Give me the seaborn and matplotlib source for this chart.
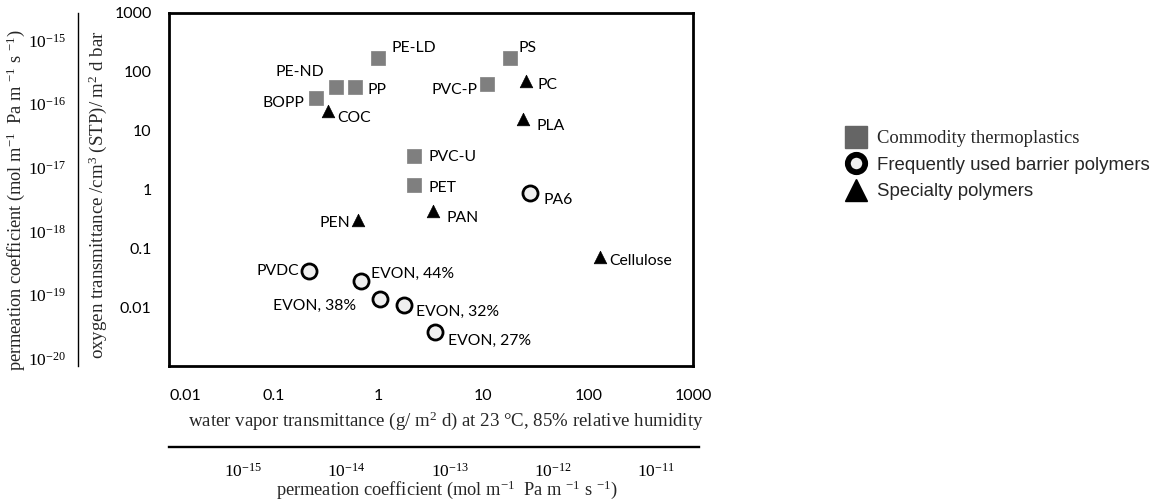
import matplotlib
matplotlib.use("Agg")
import matplotlib.pyplot as plt
import pandas as pd
import seaborn as sns
from matplotlib.lines import Line2D

# ---- data: water vapour transmittance (g/m2 d) and oxygen transmittance (cm3/m2 d bar)
commodity_names = ["PE-LD", "PS", "PE-ND", "PP", "BOPP", "PVC-P", "PVC-U", "PET"]
commodity_wvtr = [0.99, 17.9, 0.39, 0.60, 0.25, 10.8, 2.18, 2.18]
commodity_otr = [172, 172, 55, 55, 36, 62, 3.7, 1.19]

barrier_names = ["PA6", "PVDC", "EVON, 44%", "EVON, 38%", "EVON, 32%", "EVON, 27%"]
barrier_wvtr = [28.1, 0.215, 0.68, 1.02, 1.73, 3.45]
barrier_otr = [0.87, 0.041, 0.0275, 0.014, 0.0107, 0.0038]

specialty_names = ["COC", "PC", "PLA", "PAN", "PEN", "Cellulose"]
specialty_wvtr = [0.33, 25.5, 24.1, 3.31, 0.64, 131]
specialty_otr = [22, 69, 15.7, 0.43, 0.30, 0.071]

group_names = ["Commodity thermoplastics", "Frequently used barrier polymers", "Specialty polymers"]

x_ticks = [0.01, 0.1, 1, 10, 100, 1000]
x_ticklabels = ["0.01", "0.1", "1", "10", "100", "1000"]
y_ticks = [0.01, 0.1, 1, 10, 100, 1000]
y_ticklabels = ["0.01", "0.1", "1", "10", "100", "1000"]

perm_exponents_y = [-15, -16, -17, -18, -19, -20]
perm_exponents_x = [-15, -14, -13, -12, -11]

# ---- label placement (pixel offsets from the marker, horizontal alignment)
label_offsets = {
    "PE-LD": (13, 10, "left"), "PS": (9, 10, "left"), "PE-ND": (-12, 15, "right"),
    "PP": (12, -3, "left"), "BOPP": (-11, -5, "right"), "COC": (9, -7, "left"),
    "PVC-P": (-9, -6, "right"), "PC": (11, -4, "left"), "PLA": (13, -7, "left"),
    "PVC-U": (14, -1, "left"), "PET": (14, -3, "left"), "PA6": (13, -7, "left"),
    "PAN": (13, -7, "left"), "PEN": (-8, -3, "right"), "Cellulose": (9, -4, "left"),
    "PVDC": (-10, 0, "right"), "EVON, 44%": (10, 7, "left"), "EVON, 38%": (-23, -7, "right"),
    "EVON, 32%": (12, -6, "left"), "EVON, 27%": (13, -9, "left"),
}

sns.set_theme(style="white")
plt.rcParams["font.family"] = ["Lato", "DejaVu Sans"]
plt.rcParams["mathtext.fontset"] = "custom"
plt.rcParams["mathtext.rm"] = "Liberation Serif"
plt.rcParams["mathtext.it"] = "Liberation Serif:italic"
plt.rcParams["mathtext.bf"] = "Liberation Serif:bold"

df = pd.concat([
    pd.DataFrame({"name": commodity_names, "wvtr": commodity_wvtr, "otr": commodity_otr, "group": group_names[0]}),
    pd.DataFrame({"name": barrier_names, "wvtr": barrier_wvtr, "otr": barrier_otr, "group": group_names[1]}),
    pd.DataFrame({"name": specialty_names, "wvtr": specialty_wvtr, "otr": specialty_otr, "group": group_names[2]}),
], ignore_index=True)

W, H = 1164, 504
fig = plt.figure(figsize=(W / 100, H / 100), dpi=100)
fig.patch.set_facecolor("white")


def fx(px):
    return px / W


def fy(py):
    return 1 - py / H


ax = fig.add_axes([fx(169), fy(366), fx(693) - fx(169), fy(13) - fy(366)])

styles = {
    group_names[0]: dict(marker="s", s=112, color="#7f7f7f", edgecolor="#7f7f7f", linewidth=0.5),
    group_names[1]: dict(marker="o", s=118, color="#efefef", edgecolor="black", linewidth=2.0),
    group_names[2]: dict(marker="^", s=82, color="black", edgecolor="black", linewidth=0.5),
}
for g in group_names:
    sns.scatterplot(data=df[df["group"] == g], x="wvtr", y="otr", ax=ax, legend=False,
                    zorder=3, **styles[g])

ax.set_xscale("log")
ax.set_yscale("log")
ax.set_xlim(0.01, 1000)
ax.set_ylim(0.001, 1000)
ax.set_xticks(x_ticks)
ax.set_xticklabels(x_ticklabels)
ax.set_yticks(y_ticks)
ax.set_yticklabels(y_ticklabels)
ax.minorticks_off()
ax.set_xlabel("")
ax.set_ylabel("")
ax.tick_params(axis="x", direction="inout", length=11, width=1.0, pad=11, labelsize=11.5,
               color="#505050", labelcolor="black")
ax.tick_params(axis="y", direction="inout", length=11, width=1.0, pad=7, labelsize=11.5,
               color="#505050", labelcolor="black")
ax.get_xticklabels()[0].set_horizontalalignment("left")
for sp in ax.spines.values():
    sp.set_visible(True)
    sp.set_color("black")
    sp.set_linewidth(2.0)

for _, row in df.iterrows():
    dx, dy, ha = label_offsets[row["name"]]
    ax.annotate(row["name"], (row["wvtr"], row["otr"]), xytext=(dx, dy),
                textcoords="offset pixels", ha=ha, va="center", fontsize=11.3, color="black")

serif = ["Liberation Serif", "DejaVu Serif"]
perm_label = r"permeation coefficient (mol m$^{-1}$  Pa m $^{-1}$ s $^{-1}$)"

# secondary left axis: permeation coefficient
axl = fig.add_axes([fx(78), fy(366), 0.0001, fy(13) - fy(366)])
axl.set_yscale("log")
axl.set_ylim(10 ** -20.12, 10 ** -14.58)
axl.set_yticks([10.0 ** e for e in perm_exponents_y])
axl.set_yticklabels([r"$10^{%d}$" % e for e in perm_exponents_y])
axl.minorticks_off()
axl.set_xticks([])
axl.patch.set_visible(False)
for k, sp in axl.spines.items():
    sp.set_visible(k == "left")
axl.spines["left"].set_color("black")
axl.spines["left"].set_linewidth(1.0)
axl.tick_params(axis="y", direction="out", length=5, width=1.0, pad=3.5, labelsize=12.5,
                color="#505050", labelcolor="black")

# secondary bottom axis: permeation coefficient
axb = fig.add_axes([fx(169), fy(447), fx(699) - fx(169), 0.0001])
axb.set_xscale("log")
axb.set_xlim(10 ** -15.716, 10 ** -10.586)
axb.set_xticks([10.0 ** e for e in perm_exponents_x])
axb.set_xticklabels([r"$10^{%d}$" % e for e in perm_exponents_x])
axb.minorticks_off()
axb.set_yticks([])
axb.patch.set_visible(False)
for k, sp in axb.spines.items():
    sp.set_visible(k == "bottom")
axb.spines["bottom"].set_color("black")
axb.spines["bottom"].set_linewidth(1.7)
axb.tick_params(axis="x", direction="out", length=7, width=1.0, pad=4, labelsize=12.5,
                color="#707070", labelcolor="black")

# axis titles
fig.text(fx(446), fy(421), r"water vapor transmittance (g/ m$^{2}$ d) at 23 °C, 85% relative humidity",
         ha="center", va="center", fontsize=13.6, family=serif)
fig.text(fx(447), fy(490), perm_label, ha="center", va="center", fontsize=13.2, family=serif)
fig.text(fx(98), fy(195), r"oxygen transmittance /cm$^{3}$ (STP)/ m$^{2}$ d bar",
         ha="center", va="center", rotation=90, fontsize=13.6, family=serif)
fig.text(fx(16), fy(200), perm_label, ha="center", va="center", rotation=90, fontsize=13.2, family=serif)

# legend
handles = [
    Line2D([], [], linestyle="none", marker="s", markersize=16, markerfacecolor="#656565",
           markeredgecolor="#656565"),
    Line2D([], [], linestyle="none", marker="o", markersize=12.5, markerfacecolor="#efefef",
           markeredgecolor="black", markeredgewidth=4.2),
    Line2D([], [], linestyle="none", marker="^", markersize=16, markerfacecolor="black",
           markeredgecolor="black"),
]
leg = fig.legend(handles, group_names, loc="upper left", bbox_to_anchor=(fx(841), fy(130)),
                 frameon=False, fontsize=13.4, handlelength=1.66, handletextpad=0.3,
                 labelspacing=0.52, borderpad=0, borderaxespad=0)
texts = leg.get_texts()
texts[0].set_family(serif)
for t in texts[1:]:
    t.set_family(["Liberation Sans", "DejaVu Sans"])

fig.savefig("out.png", dpi=100, facecolor="white")
